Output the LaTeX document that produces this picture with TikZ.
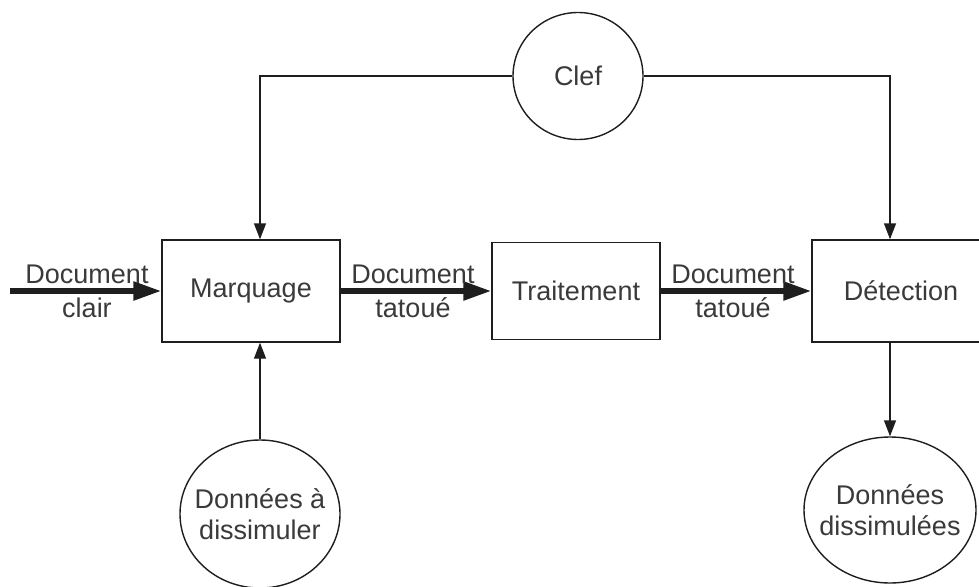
\documentclass[tikz,border=0pt]{standalone}
\usepackage{fontspec}
\setmainfont{Liberation Sans}
\usetikzlibrary{arrows.meta,shapes.geometric}
\definecolor{ink}{HTML}{1E1E1E}
\definecolor{txt}{HTML}{3A3A3A}
\begin{document}
\begin{tikzpicture}[x=1pt,y=-1pt,
  base/.style={font=\fontsize{27}{34}\selectfont, text=txt},
  boxn/.style={base, draw=ink, line width=1.4pt, rectangle, inner sep=0pt},
  oval/.style={draw=ink, line width=1.4pt, ellipse, inner sep=0pt},
  ovaltext/.style={base, font=\fontsize{27}{31}\selectfont, align=center, inner sep=0pt},
  lbl/.style={base, align=center, inner sep=0pt},
  slimarrow/.style={draw=ink, line width=1.4pt, -{Triangle[length=16pt,width=12pt]}},
  fatarrow/.style={draw=ink, line width=5.5pt, -{Triangle[length=28pt,width=18pt]}}]
\useasboundingbox (0,0) rectangle (979,586);
\fill[white] (0,0) rectangle (979,586);

\node[boxn, minimum width=178pt, minimum height=102pt] (marq) at (251,291) {Marquage};
\node[boxn, minimum width=168pt, minimum height=97pt] (trait) at (576,291) {Traitement};
\node[boxn, minimum width=178pt, minimum height=102pt] (detect) at (901,291) {D\'etection};

\node[oval, base, minimum width=130pt, minimum height=127pt] (clef) at (578,76) {Clef};
\node[oval, minimum width=160pt, minimum height=148pt,
      label={[ovaltext]center:Donn\'ees \`a\\dissimuler}] (donA) at (260,514) {};
\node[oval, minimum width=172pt, minimum height=146pt,
      label={[ovaltext]center:Donn\'ees\\dissimul\'ees}] (donB) at (890,510) {};

\coordinate (in) at (10,291);
\draw[fatarrow] (in) -- (marq.west);
\draw[fatarrow] (marq.east) -- (trait.west);
\draw[fatarrow] (trait.east) -- (detect.west);

\node[lbl] (l1) at (87,291) {Document\\clair};
\node[lbl] (l2) at (413,291) {Document\\tatou\'e};
\node[lbl] (l3) at (733,291) {Document\\tatou\'e};

\draw[slimarrow] (clef.west) -| (marq.north -| donA.north);
\draw[slimarrow] (clef.east) -| (detect.north -| donB.north);
\draw[slimarrow] (donA.north) -- (donA.north |- marq.south);
\draw[slimarrow] (donB.north |- detect.south) -- (donB.north);
\end{tikzpicture}
\end{document}
